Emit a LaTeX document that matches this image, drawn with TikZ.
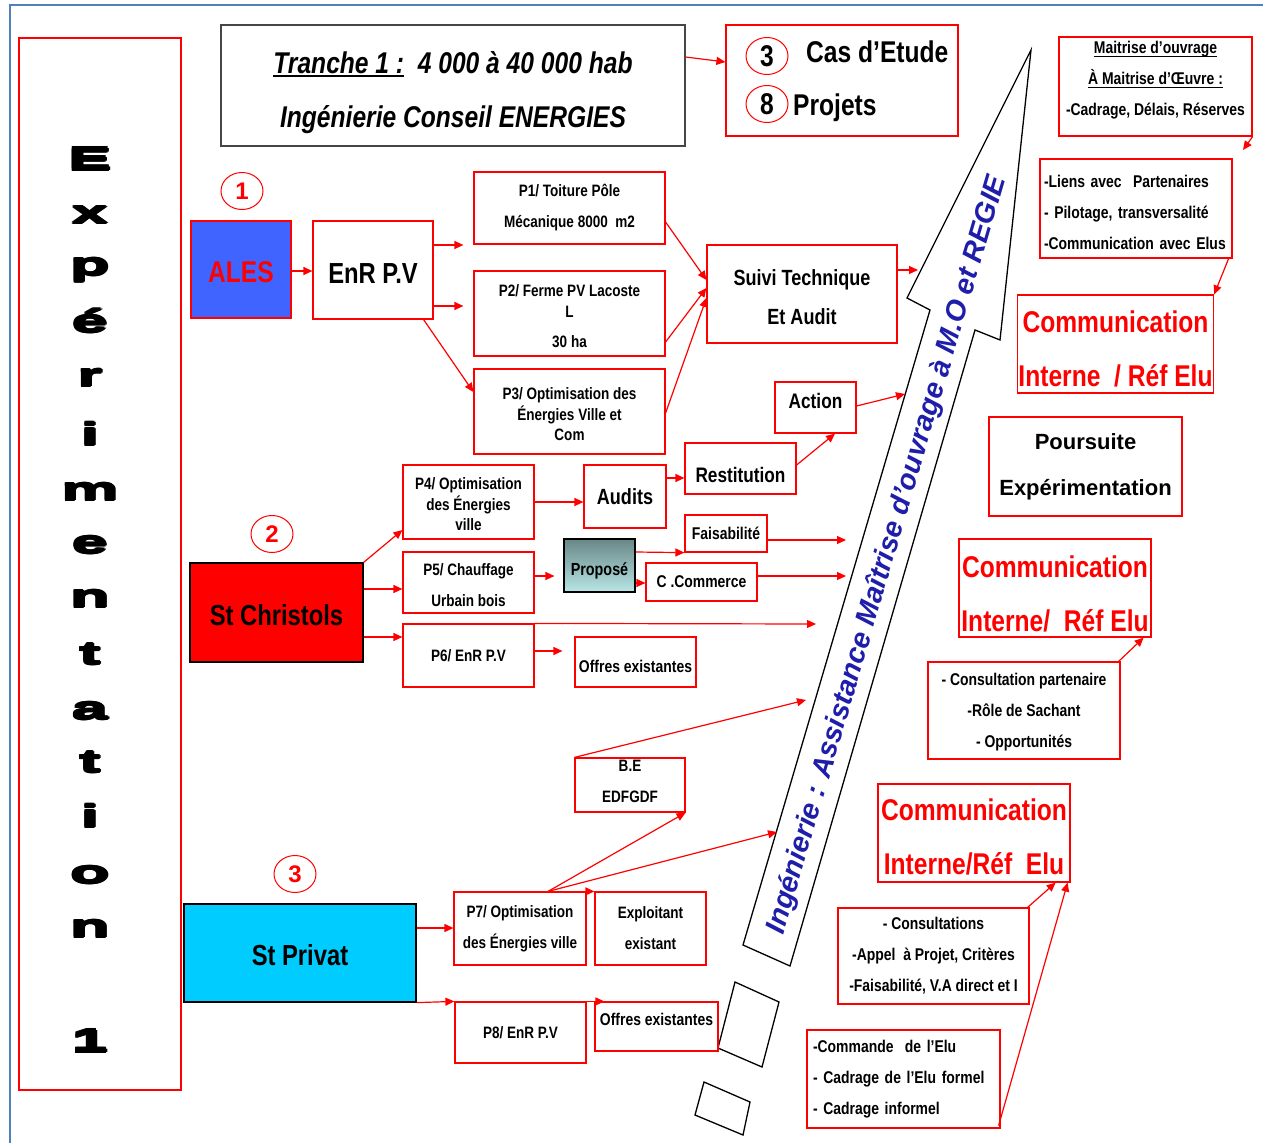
\documentclass[tikz,border=0pt]{standalone}
\usepackage{fontspec}
\setmainfont{Liberation Sans}
\newfontfamily\nar[FakeStretch=0.82]{Liberation Sans}
\newfontfamily\wideff[FakeStretch=2.0]{Liberation Sans}
\usetikzlibrary{arrows.meta,calc,shapes.geometric}
\definecolor{frameblue}{RGB}{79,129,189}
\definecolor{alesblue}{RGB}{64,100,255}
\definecolor{privatcyan}{RGB}{0,204,255}
\definecolor{arrowtxt}{RGB}{30,30,170}
\definecolor{propTop}{RGB}{105,135,135}
\definecolor{propBot}{RGB}{185,230,230}
\definecolor{titlegray}{RGB}{70,70,70}
\newcommand\myul[1]{\setbox0\hbox{#1}\rlap{\rule[-4pt]{\wd0}{2pt}}\box0}
\newcommand\myulthin[1]{\setbox0\hbox{#1}\rlap{\rule[-3pt]{\wd0}{1pt}}\box0}
\newcommand\lift[1]{\rule{0pt}{#1pt}}
\newcommand\heavy[1]{\rlap{\raisebox{1.1pt}{#1}}\rlap{\raisebox{-1.1pt}{#1}}\rlap{\hspace{1.2pt}\raisebox{1.1pt}{#1}}\rlap{\hspace{1.2pt}\raisebox{-1.1pt}{#1}}\rlap{\hspace{2.4pt}#1}#1}
\begin{document}
\begin{tikzpicture}[x=1pt,y=-1pt,
  box/.style={draw=red, line width=1.2pt, inner sep=1pt, align=center, text=black},
  sm/.style={font=\nar\bfseries\fontsize{16.5}{31}\selectfont},
  smt/.style={font=\nar\bfseries\fontsize{16.5}{20.5}\selectfont},
  mid/.style={font=\nar\bfseries\fontsize{17}{31}\selectfont},
  big/.style={font=\nar\bfseries\fontsize{29}{29}\selectfont},
  comm/.style={box, text=red, font=\nar\bfseries\fontsize{30}{54}\selectfont, minimum width=192pt, minimum height=98pt},
  arr/.style={draw=red, line width=1.2pt, -{Triangle[length=9pt,width=8pt]}},
  num/.style={ellipse, draw=red, line width=1pt, inner sep=0pt, minimum width=42pt, minimum height=37pt},
]
\useasboundingbox (0,0) rectangle (1263,1143);
\draw[frameblue, line width=2.5pt] (10,1143) -- (10,5) -- (1263,5);

% Experimentation column
\node[box, minimum width=162pt, minimum height=1052pt] (expe) at (100,564) {};
\foreach \l/\yy [count=\i] in {E/159,x/215,p/270,é/321,r/378,i/434,m/492,e/545,n/599,t/654,a/711,t/762,i/816,o/875,n/929,1/1041}
  \node[font=\wideff\bfseries\fontsize{32}{32}\selectfont, inner sep=0pt] (el\i) at (89,\yy) {\heavy{\l}};

% title
\node[draw=titlegray, line width=1.3pt, minimum width=464pt, minimum height=121pt, inner sep=0pt, align=center,
      font=\nar\bfseries\itshape\fontsize{30}{54}\selectfont] (title) at (453,85.5)
      {\lift{36}\myul{Tranche 1 :}\ \ 4 000 à 40 000 hab\\Ingénierie Conseil ENERGIES};

% cas d'etude
\node[box, minimum width=232pt, minimum height=111pt] (cas) at (842,80.5) {};
\node[num, text=black, font=\nar\bfseries\fontsize{30}{30}\selectfont] (n3) at (767,56) {3};
\node[num, text=black, font=\nar\bfseries\fontsize{30}{30}\selectfont] (n8) at (767,104) {8};
\node[anchor=base west, inner sep=0pt, font=\nar\bfseries\fontsize{30}{30}\selectfont] (castxt) at (806,62) {Cas d’Etude};
\node[anchor=base west, inner sep=0pt, font=\nar\bfseries\fontsize{30}{30}\selectfont] (projtxt) at (793,115) {Projets};

% big arrow
\draw[black, line width=1.3pt, fill=white] (743,945) -- (930,310) -- (907,298) -- (1031,50) -- (1000,340) -- (975,330) -- (790,966) -- cycle;
\node[rotate=73.6, text=arrowtxt, inner sep=0pt, font=\bfseries\itshape\fontsize{28.5}{28.5}\selectfont] (arrtxt) at (887,555)
  {Ingénierie : Assistance Maîtrise d’ouvrage à M.O et REGIE};
\draw[line width=1.3pt] (735,982) -- (779,1002) -- (762,1067) -- (718,1048) -- cycle;
\draw[line width=1.3pt] (704,1082) -- (750,1102) -- (743,1135) -- (695,1115) -- cycle;

% row 1 : ALES
\node[num, text=red, font=\bfseries\fontsize{24}{24}\selectfont] (n1) at (242,191) {1};
\node[box, fill=alesblue, minimum width=100pt, minimum height=97pt, text=red, font=\nar\bfseries\fontsize{30}{30}\selectfont] (ales) at (241,269.5) {\lift{27}ALES};
\node[box, minimum width=120pt, minimum height=98pt, big] (enr) at (373,270) {\lift{27}EnR P.V};
\node[box, sm, minimum width=191pt, minimum height=72pt] (p1) at (569.5,208) {P1/ Toiture Pôle\\Mécanique 8000\ \ m2};
\node[box, font=\nar\bfseries\fontsize{16.5}{21}\selectfont, minimum width=191pt, minimum height=85pt] (p2) at (569.5,313.5) {\lift{17}P2/ Ferme PV Lacoste\\L\\[9pt]30 ha};
\node[box, smt, minimum width=191pt, minimum height=85pt] (p3) at (569.5,411.5) {\lift{18}P3/ Optimisation des\\Énergies Ville et\\Com};
\node[box, font=\nar\bfseries\fontsize{22}{39}\selectfont, minimum width=190pt, minimum height=98pt] (suivi) at (802,294) {\lift{22}Suivi Technique\\Et Audit};
\node[box, font=\nar\bfseries\fontsize{21}{21}\selectfont, minimum width=81pt, minimum height=51pt, text depth=13pt] (action) at (815.5,407.5) {Action};
\node[box, font=\nar\bfseries\fontsize{21}{21}\selectfont, minimum width=111pt, minimum height=51pt, text height=28pt] (restit) at (740.5,468.5) {Restitution};
\node[box, font=\nar\bfseries\fontsize{22}{22}\selectfont, minimum width=82pt, minimum height=63pt] (audits) at (625,496.5) {Audits};

% row 2 : St Christols
\node[num, text=red, font=\bfseries\fontsize{24}{24}\selectfont] (n2) at (272,534) {2};
\node[box, draw=black, fill=red, minimum width=173pt, minimum height=99pt, big] (chris) at (276.5,612.5) {\lift{27}St Christols};
\node[box, smt, minimum width=131pt, minimum height=74pt] (p4) at (468.5,502) {\lift{17}P4/ Optimisation\\des Énergies\\ville};
\node[box, sm, minimum width=131pt, minimum height=61pt] (p5) at (468.5,582.5) {\lift{18}P5/ Chauffage\\Urbain bois};
\node[box, draw=black, top color=propTop, bottom color=propBot, minimum width=71pt, minimum height=53pt, text height=23pt, font=\nar\bfseries\fontsize{17.5}{17.5}\selectfont] (propose) at (599.5,565.5) {Proposé};
\node[box, mid, minimum width=82pt, minimum height=37pt] (faisa) at (726,533.5) {Faisabilité};
\node[box, mid, minimum width=111pt, minimum height=38pt] (ccom) at (701.5,582) {C .Commerce};
\node[box, sm, minimum width=131pt, minimum height=63pt] (p6) at (468.5,655.5) {P6/ EnR P.V};
\node[box, mid, minimum width=121pt, minimum height=50pt, text height=22pt] (offres1) at (635.5,662) {Offres existantes};

% row 3 : St Privat
\node[num, text=red, font=\bfseries\fontsize{24}{24}\selectfont] (n3b) at (295,874) {3};
\node[box, draw=black, fill=privatcyan, minimum width=232pt, minimum height=98pt, big] (privat) at (300,953) {\lift{25}St Privat};
\node[box, sm, minimum width=132pt, minimum height=73pt] (p7) at (520,928.5) {P7/ Optimisation\\des Énergies ville};
\node[box, sm, minimum width=111pt, minimum height=73pt] (exploit) at (650.5,928.5) {Exploitant\\existant};
\node[box, sm, minimum width=110pt, minimum height=54pt, text depth=8pt] (be) at (630,785) {B.E\\EDFGDF};
\node[box, sm, minimum width=131pt, minimum height=61pt] (p8) at (520.5,1032.5) {P8/ EnR P.V};
\node[box, mid, minimum width=123pt, minimum height=49pt, text depth=14pt] (offres2) at (656.5,1026.5) {Offres existantes};

% right column
\node[box, font=\nar\bfseries\fontsize{17}{31}\selectfont, minimum width=193pt, minimum height=99pt, text depth=16pt] (maitrise) at (1155.5,86.5)
  {\myulthin{Maitrise d’ouvrage}\\\myulthin{À Maitrise d’Œuvre :}\\-Cadrage, Délais, Réserves};
\node[box, font=\nar\bfseries\fontsize{17}{31}\selectfont, align=left, text width=184pt, minimum width=192pt, minimum height=99pt] (liens) at (1136,208.5)
  {\lift{20}-Liens avec\ \ Partenaires\\- Pilotage, transversalité\\-Communication avec Elus};
\node[comm, minimum width=191pt] (comm1) at (1115.5,344) {\lift{32}Communication\\Interne\ \ / Réf Elu};
\node[box, font=\bfseries\fontsize{22}{46}\selectfont, minimum width=193pt, minimum height=99pt] (pours) at (1085.5,466.5) {Poursuite\\Expérimentation};
\node[comm] (comm2) at (1055,588) {\lift{34}Communication\\Interne/\ \ Réf Elu};
\node[box, mid, minimum width=192pt, minimum height=97pt] (consp) at (1024,710.5) {\lift{16}- Consultation partenaire\\-Rôle de Sachant\\- Opportunités};
\node[comm] (comm3) at (974,833) {\lift{30}Communication\\Interne/Réf\ \ Elu};
\node[box, mid, minimum width=191pt, minimum height=96pt] (consult) at (933.5,956) {- Consultations\\-Appel\ \ à Projet, Critères\\-Faisabilité, V.A direct et I};
\node[box, mid, align=left, text width=181pt, minimum width=193pt, minimum height=98pt] (commande) at (903.5,1079)
  {-Commande\ \ de l’Elu\\- Cadrage de l’Elu formel\\- Cadrage informel};

% free ends on the big arrow
\coordinate (tSuivi) at (918,270);
\coordinate (tAction) at (905,394);
\coordinate (tFaisa) at (846,540);
\coordinate (tCcom) at (846,576);
\coordinate (tP6) at (816,624);
\coordinate (tBE) at (806,700);
\coordinate (tP7) at (777,832);
\coordinate (tMait) at (1243,150);
\coordinate (p7s) at ($(p7.north)+(28,0)$);

% connectors
\draw[arr] (title.east |- 0,57) -- (cas.west |- 0,62);
\draw[arr] (ales.east |- 0,271) -- (enr.west |- 0,271);
\draw[arr, shorten >=10pt] (enr.east |- 0,245) -- (p1.west |- 0,245);
\draw[arr, shorten >=10pt] (enr.east |- 0,306) -- (p2.west |- 0,306);
\draw[arr] ($(enr.south east)+(-10,0)$) -- (p3.west |- 0,392);
\draw[arr] (p1.east |- 0,222) -- (suivi.west |- 0,280);
\draw[arr] (p2.east |- 0,342) -- (suivi.west |- 0,288);
\draw[arr] (p3.east |- 0,413) -- (suivi.west |- 0,298);
\draw[arr] (suivi.east |- 0,270) -- (tSuivi);
\draw[arr] (action.east |- 0,406) -- (tAction);
\draw[arr] (restit.east |- 0,465) -- (action.south -| 835,0);
\draw[arr] (audits.east |- 0,478) -- (restit.west |- 0,478);
\draw[arr] (p4.east |- 0,502) -- (audits.west |- 0,502);
\draw[arr] (chris.north east) -- (p4.west |- 0,530);
\draw[arr] (chris.east |- 0,589) -- (p5.west |- 0,589);
\draw[arr] (chris.east |- 0,637) -- (p6.west |- 0,637);
\draw[arr, shorten >=9pt] (p5.east |- 0,576) -- (propose.west |- 0,576);
\draw[arr] (propose.east |- 0,552) -- (faisa.south west);
\draw[arr] (propose.east |- 0,583) -- (ccom.west |- 0,583);
\draw[arr] (faisa.east |- 0,540) -- (tFaisa);
\draw[arr] (ccom.east |- 0,576) -- (tCcom);
\draw[arr] (p6.north east) -- (tP6);
\draw[arr, shorten >=12pt] (p6.east |- 0,651) -- (offres1.west |- 0,651);
\draw[arr] (be.north west) -- (tBE);
\draw[arr] (p7s) -- (be.south east);
\draw[arr] (p7s) -- (tP7);
\draw[arr] (p7s) -- (exploit.north west);
\draw[arr] (privat.east |- 0,928) -- (p7.west |- 0,928);
\draw[arr] (privat.south east) -- (p8.north west);
\draw[arr] (p8.north east) -- ($(offres2.north west)+(10,0)$);
\draw[arr] (maitrise.south east) -- (tMait);
\draw[arr] ($(liens.south east)+(-4,0)$) -- (comm1.north east);
\draw[arr] ($(consp.north east)+(-2,0)$) -- ($(comm2.south east)+(-8,0)$);
\draw[arr] ($(consult.north east)+(-2,0)$) -- ($(comm3.south east)+(-15,0)$);
\draw[arr] ($(commande.south east)+(-2,-3)$) -- ($(comm3.south east)+(-3,0)$);
\end{tikzpicture}
\end{document}
